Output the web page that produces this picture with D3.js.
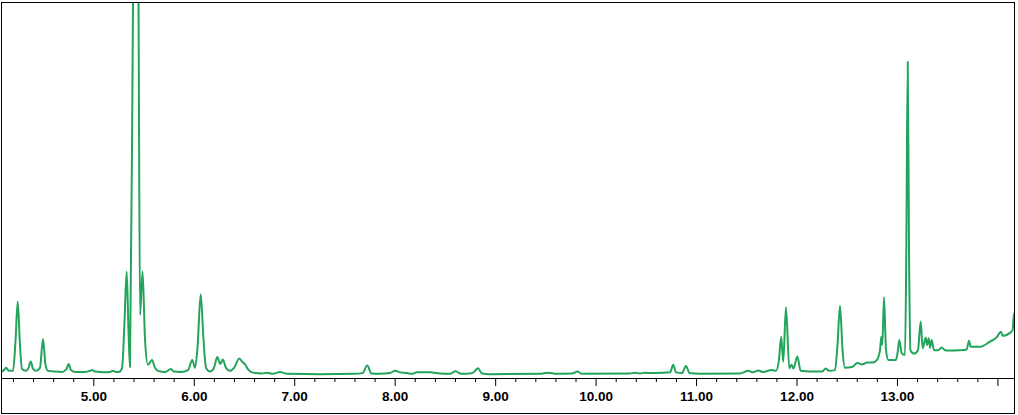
<!DOCTYPE html>
<html>
<head>
<meta charset="utf-8">
<script src="https://cdn.jsdelivr.net/npm/d3@7"></script>
<style>
  html, body { margin: 0; padding: 0; background: #fff; }
  svg { display: block; }
</style>
</head>
<body>
<svg id="chart" width="1018" height="415"></svg>
<script>
// Retention time (min) and detector signal (% of full scale)
const times = [
  4.081, 4.111, 4.131, 4.161, 4.201, 4.226, 4.247, 4.270, 4.290, 4.330,
  4.355, 4.377, 4.400, 4.430, 4.469, 4.499, 4.524, 4.549, 4.619, 4.688,
  4.733, 4.755, 4.778, 4.818, 4.917, 4.967, 4.987, 5.017, 5.116, 5.166,
  5.196, 5.226, 5.256, 5.286, 5.311, 5.332, 5.350, 5.365, 5.395, 5.422,
  5.450, 5.465, 5.490, 5.515, 5.544, 5.584, 5.614, 5.644, 5.714, 5.773,
  5.803, 5.873, 5.943, 5.985, 6.012, 6.037, 6.069, 6.097, 6.122, 6.162,
  6.201, 6.234, 6.264, 6.288, 6.321, 6.361, 6.401, 6.453, 6.480, 6.510,
  6.540, 6.580, 6.679, 6.729, 6.789, 6.858, 6.928, 7.257, 7.605, 7.680,
  7.727, 7.769, 7.854, 7.953, 8.003, 8.053, 8.123, 8.172, 8.222, 8.352,
  8.451, 8.551, 8.607, 8.660, 8.750, 8.790, 8.829, 8.869, 8.949, 9.446,
  9.529, 9.606, 9.765, 9.818, 9.865, 10.342, 10.392, 10.441, 10.492, 10.591,
  10.741, 10.773, 10.800, 10.860, 10.900, 10.935, 11.039, 11.437, 11.520, 11.567,
  11.619, 11.666, 11.753, 11.796, 11.825, 11.848, 11.868, 11.895, 11.928, 11.952,
  11.970, 12.008, 12.041, 12.134, 12.254, 12.290, 12.323, 12.383, 12.408, 12.433,
  12.458, 12.482, 12.552, 12.605, 12.652, 12.702, 12.761, 12.801, 12.831, 12.844,
  12.854, 12.871, 12.891, 12.914, 12.990, 13.007, 13.023, 13.047, 13.080, 13.093,
  13.107, 13.120, 13.134, 13.169, 13.209, 13.236, 13.256, 13.286, 13.299, 13.316,
  13.329, 13.345, 13.369, 13.411, 13.445, 13.478, 13.511, 13.627, 13.694, 13.717,
  13.734, 13.826, 13.926, 13.992, 14.035, 14.055, 14.125, 14.152, 14.165, 14.185
];
const signal = [
  1.6, 2.1, 2.7, 1.9, 1.9, 10.1, 20.3, 8.8, 2.4, 1.9,
  2.7, 4.4, 2.4, 1.9, 2.7, 10.4, 3.5, 1.9, 1.7, 1.6,
  2.4, 3.7, 2.1, 1.6, 1.6, 1.9, 2.1, 1.7, 1.5, 1.6,
  1.9, 1.6, 1.6, 2.7, 15.4, 28.3, 12.8, 2.9, 100, 188,
  100, 16.8, 28.3, 10.1, 3.5, 4.8, 2.7, 1.9, 1.6, 2.4,
  1.7, 1.6, 2.1, 4.8, 2.7, 8.0, 22.3, 10.1, 2.7, 1.7,
  2.7, 5.6, 3.7, 4.9, 2.7, 1.9, 2.7, 5.2, 4.4, 3.6,
  2.3, 1.5, 1.2, 1.4, 1.1, 1.6, 1.1, 1.0, 1.1, 1.3,
  3.3, 1.2, 1.1, 1.3, 1.9, 1.5, 1.3, 1.1, 1.5, 1.5,
  1.2, 1.1, 1.8, 1.1, 1.2, 1.6, 2.6, 1.2, 1.0, 1.1,
  1.4, 1.1, 1.2, 1.7, 1.1, 1.2, 1.4, 1.2, 1.4, 1.3,
  1.5, 3.5, 1.5, 1.3, 3.2, 1.3, 1.1, 1.2, 1.9, 1.5,
  2.0, 1.6, 2.1, 1.9, 4.8, 11.0, 4.3, 18.8, 2.6, 3.5,
  2.5, 5.7, 1.9, 1.7, 1.7, 2.5, 1.9, 2.1, 8.8, 19.2,
  7.4, 2.7, 2.9, 4.0, 3.6, 4.1, 4.1, 4.8, 7.4, 11.0,
  8.8, 21.5, 7.4, 4.8, 4.8, 6.9, 10.1, 6.6, 6.1, 34.0,
  84.1, 34.0, 7.4, 6.5, 7.4, 15.0, 7.9, 10.8, 8.8, 10.6,
  8.0, 10.1, 7.4, 7.4, 8.1, 7.4, 7.3, 7.4, 7.6, 9.9,
  8.3, 8.3, 9.7, 10.8, 12.3, 11.2, 12.0, 12.8, 17.2, 17.0
];
const majorTicks = [5, 6, 7, 8, 9, 10, 11, 12, 13, 14];
const tickLabels = ["5.00", "6.00", "7.00", "8.00", "9.00", "10.00", "11.00", "12.00", "13.00"];
const xDomain = [4.081, 14.165];
const yDomain = [0, 100];

const svg = d3.select("#chart");
const pLeft = 1, pRight = 1014, pTop = 2, axisY = 378, pBottom = 413;

const x = d3.scaleLinear().domain(xDomain).range([pLeft, pRight]);
const y = d3.scaleLinear().domain(yDomain).range([axisY, pTop]);

// frame
svg.append("rect")
  .attr("x", pLeft + 0.5).attr("y", pTop + 0.5)
  .attr("width", pRight - pLeft).attr("height", pBottom - pTop)
  .attr("fill", "none").attr("stroke", "#000").attr("stroke-width", 1);

svg.append("clipPath").attr("id", "plotclip")
  .append("rect").attr("x", pLeft + 1).attr("y", pTop + 1)
  .attr("width", pRight - pLeft - 1).attr("height", axisY - pTop - 1);

const data = times.map((t, i) => [t, signal[i]]);
const line = d3.line().x(d => x(d[0])).y(d => y(d[1])).curve(d3.curveMonotoneX);

svg.append("path")
  .datum(data)
  .attr("clip-path", "url(#plotclip)")
  .attr("d", line)
  .attr("fill", "none")
  .attr("stroke", "#22a45c")
  .attr("stroke-width", 2)
  .attr("stroke-linejoin", "round");

// minor ticks every 0.2 min
const minorTicks = d3.range(42, 142, 2).map(v => v / 10)
  .filter(v => v > xDomain[0] && v < xDomain[1] && Math.abs(v - Math.round(v)) > 1e-6);

const gMinor = svg.append("g").attr("transform", `translate(0,${axisY})`)
  .call(d3.axisBottom(x).tickValues(minorTicks).tickSize(4).tickFormat(""));
gMinor.select(".domain").remove();

const gMajor = svg.append("g").attr("transform", `translate(0,${axisY})`)
  .call(d3.axisBottom(x).tickValues(majorTicks).tickSize(8).tickPadding(5)
    .tickFormat((d, i) => tickLabels[i] || ""));
gMajor.select(".domain").attr("d", `M${pLeft + 0.5},0.5H${pRight + 0.5}`);
gMajor.selectAll("text")
  .attr("font-family", "'Liberation Sans', Arial, sans-serif")
  .attr("font-size", "13.5px")
  .attr("font-weight", "bold")
  .attr("fill", "#000");
svg.selectAll(".tick line").attr("stroke", "#000");
</script>
</body>
</html>
